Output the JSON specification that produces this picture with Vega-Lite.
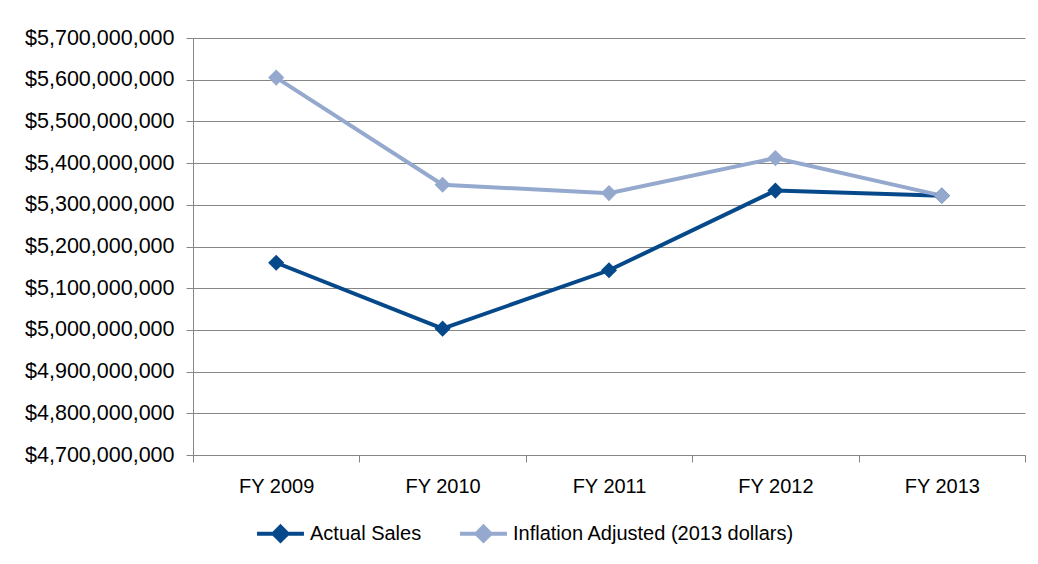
{
  "$schema": "https://vega.github.io/schema/vega-lite/v6.json",
  "width": 832,
  "height": 417,
  "autosize": {"type": "none"},
  "padding": {"left": 193, "top": 38, "right": 13, "bottom": 109},
  "background": "white",
  "config": {
    "view": {"stroke": null},
    "font": "Liberation Sans",
    "axis": {"labelFont": "Liberation Sans", "labelColor": "#000000", "domainColor": "#868686", "tickColor": "#868686", "gridColor": "#868686", "gridOpacity": 1, "gridWidth": 1},
    "legend": {"labelFont": "Liberation Sans"}
  },
  "data": {
    "values": [
      {"year": "FY 2009", "series": "Actual Sales", "value": 5161000000},
      {"year": "FY 2010", "series": "Actual Sales", "value": 5003000000},
      {"year": "FY 2011", "series": "Actual Sales", "value": 5143000000},
      {"year": "FY 2012", "series": "Actual Sales", "value": 5334000000},
      {"year": "FY 2013", "series": "Actual Sales", "value": 5322000000},
      {"year": "FY 2009", "series": "Inflation Adjusted (2013 dollars)", "value": 5605000000},
      {"year": "FY 2010", "series": "Inflation Adjusted (2013 dollars)", "value": 5348000000},
      {"year": "FY 2011", "series": "Inflation Adjusted (2013 dollars)", "value": 5328000000},
      {"year": "FY 2012", "series": "Inflation Adjusted (2013 dollars)", "value": 5412000000},
      {"year": "FY 2013", "series": "Inflation Adjusted (2013 dollars)", "value": 5322000000}
    ]
  },
  "encoding": {
    "x": {
      "field": "year", "type": "nominal", "title": null,
      "scale": {"type": "band", "paddingInner": 0, "paddingOuter": 0},
      "axis": {"labelAngle": 0, "labelFontSize": 20, "labelPadding": 14, "tickSize": 7, "tickBand": "extent", "domainColor": "#868686", "grid": false}
    },
    "y": {
      "field": "value", "type": "quantitative", "title": null,
      "scale": {"domain": [4700000000, 5700000000], "nice": false, "zero": false},
      "axis": {"values": [4700000000, 4800000000, 4900000000, 5000000000, 5100000000, 5200000000, 5300000000, 5400000000, 5500000000, 5600000000, 5700000000], "format": "$,.0f", "labelFontSize": 21.5, "labelPadding": 12, "tickSize": 7, "grid": true}
    },
    "color": {
      "field": "series", "type": "nominal", "title": null,
      "scale": {"domain": ["Actual Sales", "Inflation Adjusted (2013 dollars)"], "range": ["#06498A", "#94A9CD"]},
      "legend": {"orient": "none", "legendX": 62, "legendY": 470, "direction": "horizontal", "labelFontSize": 20, "labelLimit": 400, "symbolType": "M-1,0H1M0,-0.3L0.3,0L0,0.3L-0.3,0Z", "symbolSize": 2200, "symbolStrokeWidth": 4, "columnPadding": 30, "labelOffset": 4}
    }
  },
  "layer": [
    {"mark": {"type": "line", "strokeWidth": 4}},
    {"mark": {"type": "point", "shape": "diamond", "filled": true, "size": 260, "opacity": 1}}
  ]
}
